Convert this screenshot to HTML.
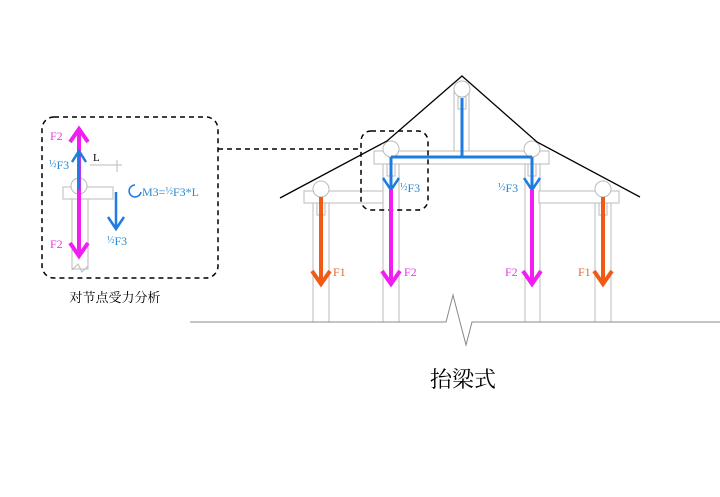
<!DOCTYPE html>
<html><head><meta charset="utf-8"><style>
body{margin:0;background:#fff;}
svg text{font-family:"Liberation Serif","Noto Serif CJK SC",serif;}
</style></head><body>
<svg width="720" height="492" viewBox="0 0 720 492" xmlns="http://www.w3.org/2000/svg">
<g fill="none" stroke="#bbb" stroke-width="1">
<rect x="313" y="203" width="16" height="119"/>
<rect x="383" y="164" width="16" height="158"/>
<rect x="525" y="164" width="15" height="158"/>
<rect x="595" y="203" width="16" height="119"/>
<rect x="454" y="90" width="15" height="61"/>
<rect x="374" y="151" width="175" height="13" fill="#fff"/>
<rect x="304" y="191" width="79" height="12" fill="#fff"/>
<rect x="539" y="191" width="80" height="12" fill="#fff"/>
<rect x="317" y="203" width="8" height="12"/>
<rect x="599" y="203" width="8" height="12"/>
<rect x="387" y="164" width="8" height="12"/>
<rect x="528" y="164" width="8" height="12"/>
<rect x="458" y="97" width="8" height="12"/>
<circle cx="462" cy="89" r="8" fill="#fff"/>
<circle cx="391" cy="149" r="8" fill="#fff"/>
<circle cx="532" cy="149" r="8" fill="#fff"/>
<circle cx="321" cy="189" r="8" fill="#fff"/>
<circle cx="603" cy="189" r="8" fill="#fff"/>
<rect x="72" y="199" width="16" height="70"/>
<rect x="63" y="187" width="50" height="12" fill="#fff"/>
<circle cx="79" cy="186" r="8" fill="#fff"/>
<path d="M90,165 H122 M117,160 V172"/>
<path d="M72,270 L78,264 L82,272 L88,266"/>
</g>
<path d="M280,198 L387,141 L462,76 L537,142 L640,197" fill="none" stroke="#000" stroke-width="1.3"/>
<path d="M190,322 H446 L453,295 L466,345 L472,322 H720" fill="none" stroke="#888" stroke-width="1"/>
<g fill="none" stroke="#000" stroke-width="1.5" stroke-dasharray="5,4">
<rect x="42" y="117" width="176" height="161" rx="12"/>
<rect x="361" y="131" width="67" height="79" rx="10"/>
<path d="M218,149 H361"/>
</g>
<path d="M462,98 V157 M391,157 H532 M391,157 V190 M532,157 V190" stroke="#1e7be0" stroke-width="3" fill="none"/>
<path d="M383,178 L391,190 L399,178 M524,178 L532,190 L540,178" stroke="#1e7be0" stroke-width="2.5" fill="none"/>
<g stroke="#f01ef0" stroke-width="4" fill="none">
<path d="M391,190 V284 M532,190 V284"/>
<path d="M382,271 L391,284 L400,271 M523,271 L532,284 L541,271"/>
<path d="M79,130 V255 M70,142 L79,129 L88,142 M70,243 L79,256 L88,243"/>
</g>
<g stroke="#f05a14" stroke-width="4" fill="none">
<path d="M321,197 V284 M603,197 V284 M312,271 L321,284 L330,271 M594,271 L603,284 L612,271"/>
</g>
<g stroke="#1e7be0" stroke-width="2.5" fill="none">
<path d="M79,190 V152 M72,162 L79,151 L86,162"/>
<path d="M116,192 V228 M108,217 L116,229 L124,217"/>
<path d="M135,185 A6,6 0 1 0 141,192" stroke-width="1.5"/>
</g>
<g font-size="12">
<text x="404" y="276" fill="#e040e0">F2</text>
<text x="505" y="276" fill="#e040e0">F2</text>
<text x="333" y="276" fill="#e06a30">F1</text>
<text x="578" y="276" fill="#e06a30">F1</text>
<text x="50" y="140" fill="#e040e0">F2</text>
<text x="50" y="248" fill="#e040e0">F2</text>
<text x="93" y="161" fill="#000" font-size="11">L</text>
<g fill="#2b8ad0" font-size="12">
<text x="400" y="192"><tspan font-size="10" dy="-2">½</tspan><tspan dy="2">F3</tspan></text>
<text x="498" y="192"><tspan font-size="10" dy="-2">½</tspan><tspan dy="2">F3</tspan></text>
<text x="49" y="169"><tspan font-size="10" dy="-2">½</tspan><tspan dy="2">F3</tspan></text>
<text x="107" y="245"><tspan font-size="10" dy="-2">½</tspan><tspan dy="2">F3</tspan></text>
<text x="142" y="196">M3=<tspan font-size="10" dy="-2">½</tspan><tspan dy="2">F3*L</tspan></text>
</g>
</g>
<text x="115" y="302" text-anchor="middle" font-size="13" fill="#000">对节点受力分析</text>
<text x="463" y="387" text-anchor="middle" font-size="22" fill="#000">抬梁式</text>
</svg>
</body></html>
